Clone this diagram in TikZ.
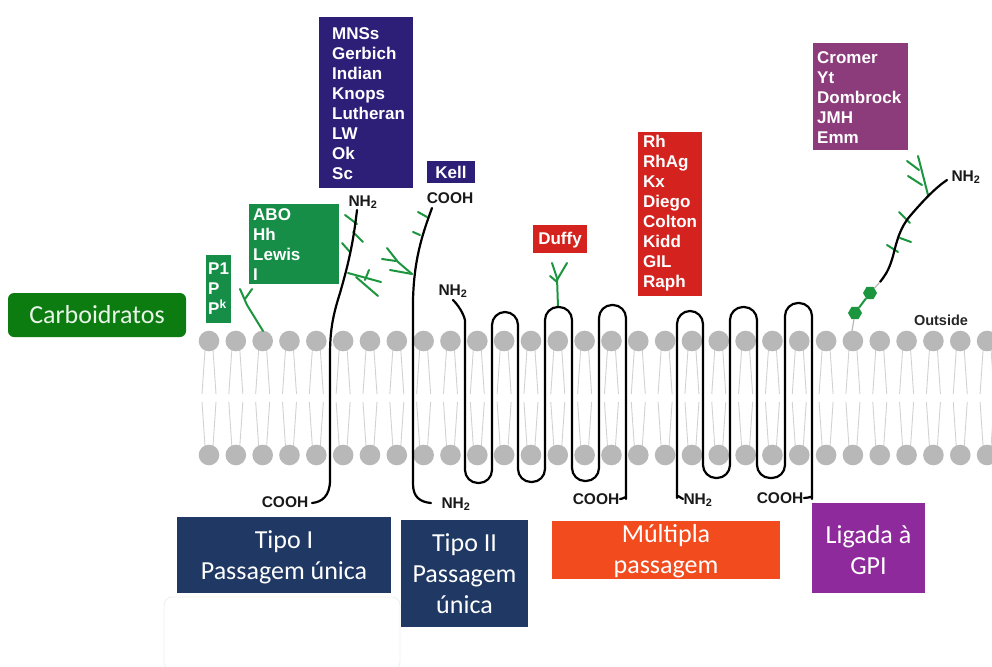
\documentclass[tikz,border=0pt]{standalone}
\usepackage{fontspec}
\setmainfont{Liberation Sans}
\newfontfamily\calib{Carlito}
\usetikzlibrary{shapes.geometric}

\definecolor{headc}{RGB}{184,184,184}
\definecolor{tailc}{RGB}{210,210,210}
\definecolor{sugarc}{RGB}{28,150,62}
\definecolor{greenbox}{RGB}{22,142,72}
\definecolor{carbo}{RGB}{12,124,16}
\definecolor{carbotext}{RGB}{232,244,232}
\definecolor{indigo}{RGB}{45,30,120}
\definecolor{redbox}{RGB}{212,34,30}
\definecolor{mauve}{RGB}{140,60,122}
\definecolor{navy}{RGB}{31,56,100}
\definecolor{orangebox}{RGB}{242,76,30}
\definecolor{purplebox}{RGB}{142,42,155}
\definecolor{faint}{RGB}{238,238,238}

\begin{document}
\begin{tikzpicture}[x=1pt,y=-1pt,
  prot/.style={draw=black, line width=2.2pt, line cap=round, line join=round},
  sugar/.style={draw=sugarc, line width=2pt, line cap=round},
  tail/.style={draw=tailc, line width=0.9pt},
  chem/.style={font=\bfseries\fontsize{15.5}{17}\selectfont, inner sep=0pt, text=black!90},
  tag/.style={font=\bfseries\fontsize{17}{20}\selectfont, text=white, align=left, inner sep=0pt, anchor=west},
  panel/.style={inner sep=0pt, draw=none},
  captext/.style={font=\calib\fontsize{26}{31}\selectfont, align=center, inner sep=0pt, text=white},
  hexa/.style={regular polygon, regular polygon sides=6, minimum size=14pt, inner sep=0pt, fill=sugarc}
]
\useasboundingbox (0,0) rectangle (992,666);
\fill[white] (0,0) rectangle (992,666);

% ---------- lipid bilayer ----------
\foreach \i in {0,...,29}{
  \pgfmathsetmacro\hx{209+26.83*\i}
  \draw[tail] (\hx-4,350) -- (\hx-7,394);
  \draw[tail] (\hx+4,350) -- (\hx+7,394);
  \draw[tail] (\hx-7,402) -- (\hx-4,446);
  \draw[tail] (\hx+7,402) -- (\hx+4,446);
  \fill[headc] (\hx,341) circle (10.3pt);
  \fill[headc] (\hx,455) circle (10.3pt);
}

% ---------- carbohydrate chains ----------
% P1 / P / Pk glycolipid
\draw[sugar, line join=round] (263,331) -- (247,305) -- (240,289);
\draw[sugar] (245,299) -- (252,289);

% type I protein
\draw[sugar] (345,215) -- (357,224);
\draw[sugar] (353,232) -- (363,242);
\draw[sugar] (342,243) -- (350,252);
\draw[sugar] (348,273) -- (381,282);
\draw[sugar] (356,277) -- (378,296);
\draw[sugar] (365,280) -- (369,270);

% type II protein
\draw[sugar] (418,212) -- (427,217);
\draw[sugar] (413,232) -- (420,235);
\draw[sugar, line join=round] (412,274) -- (398,262) -- (387,248);
\draw[sugar] (382,259) -- (396,261);
\draw[sugar] (390,270) -- (412,274);

% Duffy
\draw[sugar, line join=round] (558,307) -- (557,278) -- (552,263);
\draw[sugar] (557,280) -- (567,263);
\draw[sugar] (550,276) -- (557,282);

% GPI-linked protein
\draw[sugar] (899,212) -- (910,223);
\draw[sugar] (887,245) -- (898,252);
\draw[sugar] (900,238) -- (911,242);
\draw[sugar] (928,195) -- (918,156);
\draw[sugar] (907,161) -- (919,170);
\draw[sugar] (908,176) -- (922,185);

% ---------- proteins ----------
% type I, single pass
\draw[prot] (357,210) .. controls (353,245) and (348,265) .. (340,293)
  .. controls (333,315) and (330,330) .. (330,355) -- (330,480)
  .. controls (330,496) and (322,502) .. (312,503);
% type II, single pass
\draw[prot] (432,208) .. controls (422,235) and (414,260) .. (413,300) -- (413,484)
  .. controls (413,497) and (420,502) .. (431,503);
% multi-pass protein (Duffy)
\draw[prot, rounded corners=13pt] (453,300) .. controls (461,308) and (465,318) .. (465,334)
  -- (465,483) -- (492,483) -- (492,312) -- (518,312) -- (518,482) -- (545,482)
  -- (545,307) -- (572,307) -- (572,481) -- (599,481) -- (599,305) -- (626,305)
  -- (626,486) .. controls (626,495) and (624,499) .. (620,499);
% multi-pass protein (Rh)
\draw[prot, rounded corners=13pt] (683,499) .. controls (679,497) and (677,494) .. (677,485)
  -- (677,311) -- (703,311) -- (703,478) -- (730,478) -- (730,307) -- (757,307)
  -- (757,478) -- (785,478) -- (785,303) -- (812,303)
  -- (812,486) .. controls (812,495) and (810,498) .. (804,498);
% GPI-linked protein
\draw[prot] (880,282) .. controls (888,272) and (890,266) .. (893,256)
  .. controls (897,240) and (900,228) .. (910,216)
  .. controls (922,202) and (935,188) .. (947,180);
% GPI anchor
\node[hexa] (hexA) at (855,313) {};
\node[hexa] (hexB) at (870,293) {};
\coordinate (anchorhead) at (852,331);
\coordinate (protstart) at (880,282);
\draw[draw=headc, line width=1.2pt] (anchorhead) -- (hexA);
\draw[sugarc, line width=2pt] (hexA) -- (hexB);
\draw[draw=headc, line width=1.2pt] (hexB) -- (protstart);

% ---------- terminus labels ----------
\node[chem] (nA) at (363,202) {NH\textsubscript{2}};
\node[chem] (cA) at (450,198) {COOH};
\node[chem] (nB) at (453,291) {NH\textsubscript{2}};
\node[chem] (cB) at (285,502) {COOH};
\node[chem] (nC) at (456,504) {NH\textsubscript{2}};
\node[chem] (cC) at (596,499) {COOH};
\node[chem] (nD) at (698,500) {NH\textsubscript{2}};
\node[chem] (cD) at (780,498) {COOH};
\node[chem] (nE) at (966,177) {NH\textsubscript{2}};
\node[chem, font=\bfseries\fontsize{14.5}{16}\selectfont, text=black!85] (outside) at (941,320) {Outside};

% ---------- blood group panels ----------
\node[panel, fill=greenbox, minimum width=25pt, minimum height=68pt] (pbox) at (218.5,289) {};
\node[tag] (ptxt) at (208,289) {P1\\P\\P\textsuperscript{k}};

\node[panel, fill=greenbox, minimum width=90pt, minimum height=80pt] (abobox) at (294,244) {};
\node[tag] (abotxt) at (253,245) {ABO\\Hh\\Lewis\\I};

\node[panel, fill=indigo, minimum width=94pt, minimum height=171pt] (mnsbox) at (366,102.5) {};
\node[tag] (mnstxt) at (332,104) {MNSs\\Gerbich\\Indian\\Knops\\Lutheran\\LW\\Ok\\Sc};

\node[panel, fill=indigo, minimum width=48pt, minimum height=22pt] (kellbox) at (451,172) {};
\node[tag, anchor=center] (kelltxt) at (451,172) {Kell};

\node[panel, fill=redbox, minimum width=54pt, minimum height=28pt] (duffybox) at (560,239) {};
\node[tag, anchor=center] (duffytxt) at (560,240) {Duffy};

\node[panel, fill=redbox, minimum width=64pt, minimum height=164pt] (rhbox) at (670,214) {};
\node[tag] (rhtxt) at (643,213) {Rh\\RhAg\\Kx\\Diego\\Colton\\Kidd\\GIL\\Raph};

\node[panel, fill=mauve, minimum width=95pt, minimum height=107pt] (crbox) at (860.5,96.5) {};
\node[tag] (crtxt) at (817,97.5) {Cromer\\Yt\\Dombrock\\JMH\\Emm};

% ---------- category captions ----------
\node[panel, fill=carbo, rounded corners=6pt, minimum width=178pt, minimum height=44pt] (carbobox) at (97,315) {};
\node[captext, text=carbotext] (carbotxt) at (97,315) {Carboidratos};

\node[panel, fill=navy, minimum width=214pt, minimum height=76pt] (t1box) at (284,555) {};
\node[captext] (t1txt) at (284,557) {Tipo I\\Passagem única};

\node[panel, fill=navy, minimum width=127pt, minimum height=107pt] (t2box) at (464.5,573.5) {};
\node[captext] (t2txt) at (464.5,574) {Tipo II\\Passagem\\única};

\node[panel, fill=orangebox, minimum width=228pt, minimum height=58pt] (mpbox) at (666,550) {};
\node[captext] (mptxt) at (666,551) {Múltipla\\passagem};

\node[panel, fill=purplebox, minimum width=113pt, minimum height=90pt] (gpibox) at (868.5,548) {};
\node[captext] (gpitxt) at (868.5,550) {Ligada à\\GPI};

\draw[faint, line width=0.8pt, rounded corners=8pt] (164,597) rectangle (400,670);
\end{tikzpicture}
\end{document}
